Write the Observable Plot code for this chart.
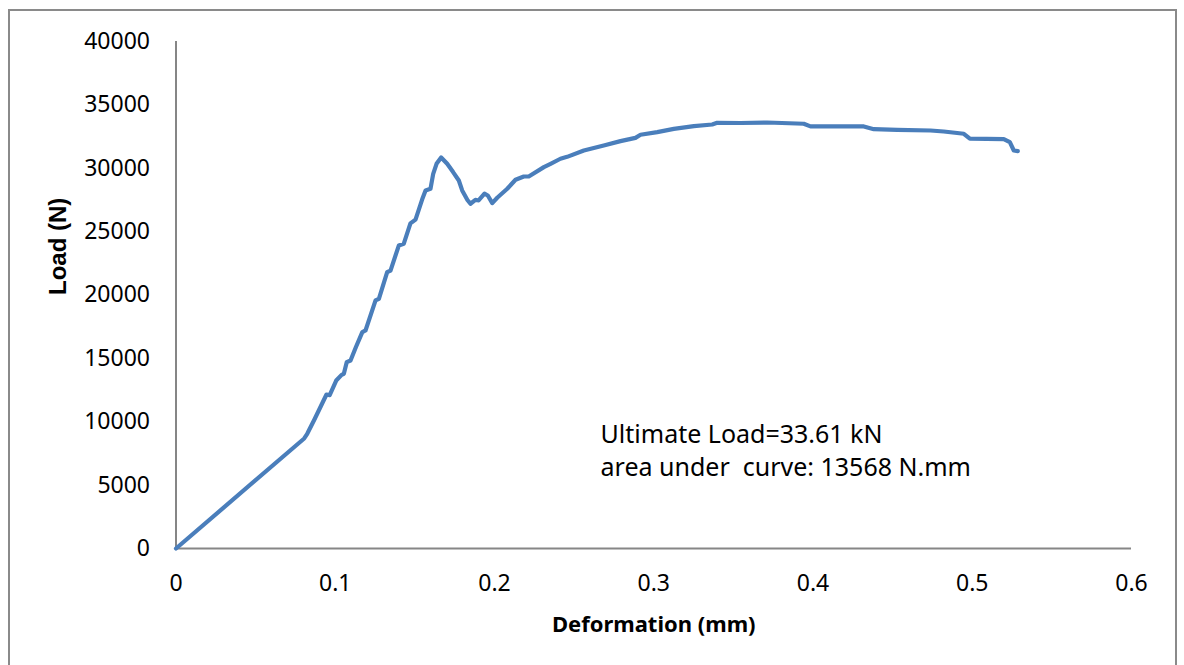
<!DOCTYPE html>
<html>
<head>
<meta charset="utf-8">
<script src="https://cdn.jsdelivr.net/npm/d3@7"></script>
<script src="https://cdn.jsdelivr.net/npm/@observablehq/plot@0.6"></script>
<style>
  html, body { margin: 0; padding: 0; background: #fff; overflow: hidden; }
  #wrap { position: relative; width: 1184px; height: 665px; }
  #frame { position: absolute; left: 8px; top: 9px; width: 1169px; height: 700px; border: 2px solid #8a8a8a; box-sizing: border-box; pointer-events: none; }
  #chart { position: absolute; left: 0; top: 0; }
</style>
</head>
<body>
<div id="wrap"><div id="chart"></div><div id="frame"></div></div>
<script>
const deformation = [0, 0.0805, 0.0824, 0.0870, 0.0920, 0.0945, 0.0965, 0.1006, 0.1040, 0.1054, 0.1072, 0.1096, 0.1130, 0.1170, 0.1190, 0.1253, 0.1274, 0.1326, 0.1347, 0.1399, 0.1430, 0.1472, 0.1504, 0.1546, 0.1567, 0.1598, 0.1615, 0.1636, 0.1665, 0.1703, 0.1740, 0.1776, 0.1797, 0.1830, 0.1849, 0.1880, 0.1900, 0.1937, 0.1958, 0.1986, 0.2017, 0.2080, 0.2132, 0.2184, 0.2215, 0.2310, 0.2352, 0.2414, 0.2456, 0.2561, 0.2686, 0.2791, 0.2885, 0.2917, 0.3022, 0.3126, 0.3252, 0.3367, 0.3398, 0.3545, 0.3712, 0.3942, 0.3984, 0.4319, 0.4382, 0.4529, 0.4738, 0.4821, 0.4947, 0.4985, 0.5198, 0.5236, 0.5261, 0.5286];
const load = [0, 8680, 9050, 10200, 11500, 12150, 12100, 13250, 13700, 13780, 14700, 14830, 15900, 17070, 17200, 19570, 19700, 21800, 21930, 23900, 24040, 25650, 25950, 27550, 28250, 28380, 29560, 30350, 30850, 30350, 29700, 29030, 28250, 27500, 27200, 27510, 27460, 27990, 27850, 27250, 27670, 28380, 29090, 29350, 29350, 30090, 30350, 30750, 30900, 31400, 31800, 32140, 32400, 32640, 32850, 33110, 33320, 33450, 33590, 33570, 33610, 33510, 33300, 33300, 33080, 33030, 32980, 32900, 32720, 32330, 32300, 32060, 31400, 31350];
const xTicks = [0, 0.1, 0.2, 0.3, 0.4, 0.5, 0.6];
const yTicks = [0, 5000, 10000, 15000, 20000, 25000, 30000, 35000, 40000];
const xTitle = "Deformation (mm)";
const yTitle = "Load (N)";
const noteLines = ["Ultimate Load=33.61 kN", "area under  curve: 13568 N.mm"];
const noteX = [0.2666, 0.2666];
const noteY = [8916, 6390];

const curve = deformation.map((d, i) => ({x: d, y: load[i]}));
const notes = noteLines.map((t, i) => ({t, x: noteX[i], y: noteY[i]}));

const chart = Plot.plot({
  width: 1184,
  height: 665,
  marginLeft: 175.5,
  marginRight: 53,
  marginTop: 41,
  marginBottom: 117,
  style: {fontFamily: "'Noto Sans', sans-serif", fontSize: "23px", color: "#000", background: "transparent"},
  x: {domain: [0, 0.6]},
  y: {domain: [0, 40000]},
  marks: [
    Plot.axisX({ticks: xTicks, tickSize: 0, tickPadding: 26, tickFormat: d => String(d), label: null, fontSize: 23, fill: "#000"}),
    Plot.axisY({ticks: yTicks, tickSize: 0, tickPadding: 26, tickFormat: d => String(d), label: null, fontSize: 23, fill: "#000"}),
    Plot.ruleY([0], {stroke: "#868686", strokeWidth: 2}),
    Plot.ruleX([0], {stroke: "#868686", strokeWidth: 2}),
    Plot.line(curve, {x: "x", y: "y", stroke: "#4A7EBB", strokeWidth: 4.2, strokeLinejoin: "round", strokeLinecap: "round"}),
    Plot.text(notes, {x: "x", y: "y", text: "t", textAnchor: "start", fontSize: 25, fill: "#000"}),
    Plot.text([xTitle], {frameAnchor: "bottom", dy: 83, fontWeight: "bold", fontSize: 22, fill: "#000"}),
    Plot.text([yTitle], {frameAnchor: "left", dx: -118, rotate: -90, fontWeight: "bold", fontSize: 24, fontFamily: "'Liberation Sans', Arial, sans-serif", fill: "#000"})
  ]
});
document.getElementById("chart").appendChild(chart);
</script>
</body>
</html>
